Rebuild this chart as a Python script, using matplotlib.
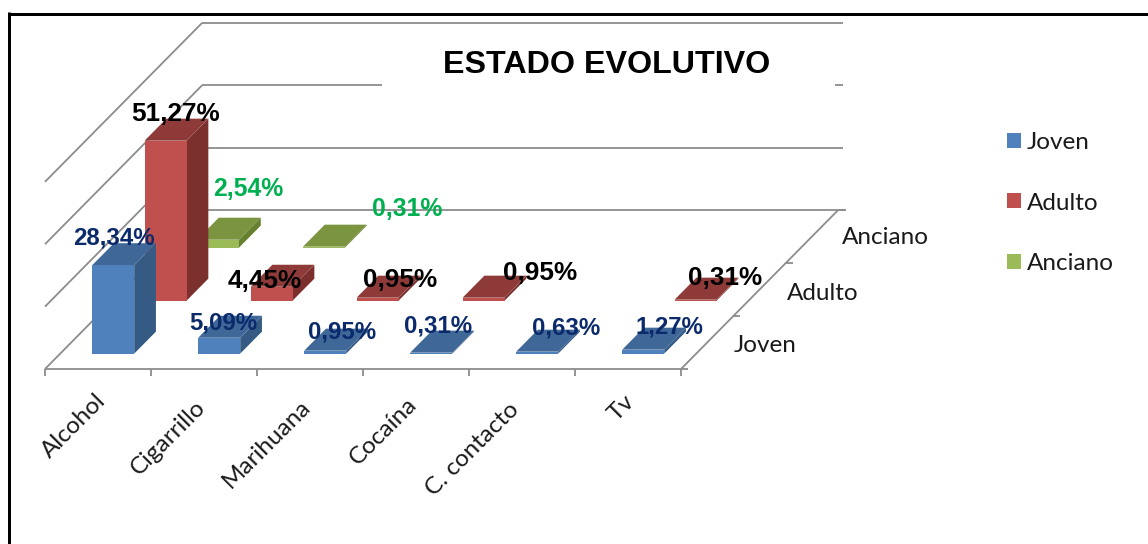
import matplotlib
matplotlib.use("Agg")
import matplotlib.pyplot as plt
from matplotlib.patches import Polygon, Patch, Rectangle
from matplotlib.lines import Line2D
from matplotlib.transforms import IdentityTransform

# ---------- data ----------
categories = ["Alcohol", "Cigarrillo", "Marihuana", "Cocaína", "C. contacto", "Tv"]
series_names = ["Joven", "Adulto", "Anciano"]
joven = [28.34, 5.09, 0.95, 0.31, 0.63, 1.27]
adulto = [51.27, 4.45, 0.95, 0.95, 0.0, 0.31]
anciano = [2.54, 0.31, 0.0, 0.0, 0.0, 0.0]
value_ticks = [0, 20, 40, 60]
title = "ESTADO EVOLUTIVO"

# ---------- style / layout ----------
W, H = 1148, 544
X0, X1, Y0 = 45, 681, 369          # front floor edge, pixels from top-left
PX_PER_UNIT = 3.12
DEPTH_DX, DEPTH_DY = 52.4, 53.0    # oblique offset of one depth slot
BAR_W = 42 / 106
BAR_D = 0.415
BAR_D0 = 0.29
GRID = "#8c8c8c"
COLORS = {
    "Joven": ("#4F81BD", "#3F6797", "#355A83"),
    "Adulto": ("#C0504D", "#8E3A38", "#7C302E"),
    "Anciano": ("#9BBB59", "#7A9440", "#678030"),
}
LABEL_COL = {"Joven": "#0A2A6B", "Adulto": "#000000", "Anciano": "#00B050"}
LABEL_SIZE = {"Joven": 17.3, "Adulto": 18.8, "Anciano": 17.8}
LABEL_POS = {
    "Joven": [(114, 238), (223, 323), (342, 332), (438, 326), (566, 328), (669, 327)],
    "Adulto": [(176, 114), (265, 281), (400, 280), (540, 273), None, (725, 278)],
    "Anciano": [(248, 189), (407, 209), None, None, None, None],
}
DEPTH_LABEL_POS = [(765, 345), (823, 293), (885, 238)]
CAT_LABEL_POS = [(102, 397), (202, 404), (307, 403), (414, 401), (516, 406), (631, 398)]

fig = plt.figure(figsize=(W / 100, H / 100), dpi=100, facecolor="white")
n = len(categories)
ymax = value_ticks[-1]
ax = fig.add_axes([X0 / W, (H - Y0) / H, (X1 - X0) / W, ymax * PX_PER_UNIT / H])
ax.set_xlim(0, n)
ax.set_ylim(0, ymax)
ax.axis("off")
ID = IdentityTransform()


def proj(c, v, d):
    x, y = ax.transData.transform((c, v))
    return x + d * DEPTH_DX, y + d * DEPTH_DY


def px(x, y):
    return x, H - y


def poly(pts, color, z):
    fig.add_artist(Polygon(pts, closed=True, facecolor=color, edgecolor="none",
                           linewidth=0, transform=ID, zorder=z, clip_on=False))


def line(a, b, z=1, lw=1.8, color=GRID):
    fig.add_artist(Line2D([a[0], b[0]], [a[1], b[1]], color=color, lw=lw * 0.72,
                          transform=ID, zorder=z, solid_capstyle="butt"))


# outer frame
line(px(9, 13.5), px(W, 13.5), z=20, lw=3, color="black")
line(px(9, 12), px(9, H), z=20, lw=3, color="black")

# walls and gridlines
for v in value_ticks:
    line(proj(0, v, 0), proj(0, v, 3))
    end = 843 if v else 846
    a = proj(0, v, 3)
    line(a, (end, a[1]))
line(proj(0, 0, 0), proj(n, 0, 0))
line(proj(n, 0, 0), proj(n, 0, 3))
for i in range(n + 1):
    a = proj(i, 0, 0)
    line(a, (a[0], a[1] - 7))
for d in range(4):
    a = proj(n, 0, d)
    line(a, (a[0] + 7, a[1]))

# title block hides part of a gridline
fig.add_artist(Rectangle(px(382, 100), 453, 60, facecolor="white", edgecolor="none",
                         transform=ID, zorder=2))
fig.text(607, H - 65, title, transform=ID, ha="center", va="center", family="Liberation Sans",
         fontweight="bold", fontsize=23.2, color="black", zorder=30)

# bars, back to front
z = 5
for depth, name, vals in [(2, "Anciano", anciano), (1, "Adulto", adulto), (0, "Joven", joven)]:
    front, top, side = COLORS[name]
    d0 = depth + BAR_D0
    d1 = d0 + BAR_D
    for i, v in enumerate(vals):
        if v <= 0:
            continue
        l = i + (1 - BAR_W) / 2
        r = l + BAR_W
        poly([proj(r, 0, d0), proj(r, 0, d1), proj(r, v, d1), proj(r, v, d0)], side, z)
        poly([proj(l, v, d0), proj(r, v, d0), proj(r, v, d1), proj(l, v, d1)], top, z)
        poly([proj(l, 0, d0), proj(r, 0, d0), proj(r, v, d0), proj(l, v, d0)], front, z + 0.1)
        z += 0.2

# data labels
for name, vals in [("Anciano", anciano), ("Adulto", adulto), ("Joven", joven)]:
    for v, pos in zip(vals, LABEL_POS[name]):
        if pos is None:
            continue
        x, y = px(*pos)
        fig.text(x, y, f"{v:.2f}".replace(".", ",") + "%", transform=ID, ha="center", va="center",
                 family="Liberation Sans", fontweight="bold", fontsize=LABEL_SIZE[name],
                 color=LABEL_COL[name], zorder=30)

# axis labels
for lab, pos in zip(categories, CAT_LABEL_POS):
    x, y = px(*pos)
    fig.text(x, y, lab, transform=ID, rotation=45, rotation_mode="anchor", ha="right", va="center",
             family="Lato", fontsize=17.5, color="#1a1a1a", zorder=30)
for lab, pos in zip(series_names, DEPTH_LABEL_POS):
    x, y = px(*pos)
    fig.text(x, y, lab, transform=ID, ha="center", va="center", family="Lato", fontsize=17.5,
             color="#1a1a1a", zorder=30)

# legend
handles = [Patch(facecolor=COLORS[s][0], edgecolor="none", label=s) for s in series_names]
leg = fig.legend(handles=handles, loc="center left", bbox_to_anchor=(1007 / W, (H - 203) / H),
                 frameon=False, prop={"family": "Lato", "size": 17.5}, handlelength=0.58, handleheight=0.58,
                 handletextpad=0.25, labelspacing=1.62, borderpad=0, borderaxespad=0)
for t in leg.get_texts():
    t.set_color("#1a1a1a")

fig.savefig("out.png", dpi=100)
